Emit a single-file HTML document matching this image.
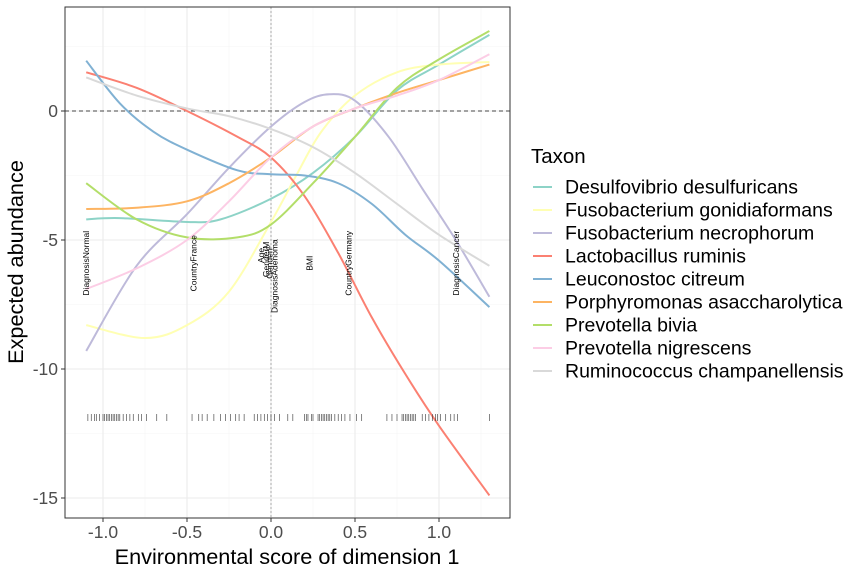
<!DOCTYPE html>
<html><head><meta charset="utf-8"><style>
body{margin:0;background:#fff;}
svg text{font-family:"Liberation Sans",sans-serif;}
</style></head><body>
<svg id="chart" width="864" height="576" viewBox="0 0 864 576" xmlns="http://www.w3.org/2000/svg">
<rect width="864" height="576" fill="#fff"/>
<g id="grid"></g>
<g id="curves"></g>
<g id="labels"></g>
<g id="rug"></g>
<rect x="65" y="7" width="445" height="511" fill="none" stroke="#333" stroke-width="1"/>
<g id="axes"></g>
<text x="287" y="564" font-size="21.7" text-anchor="middle" fill="#000">Environmental score of dimension 1</text>
<text transform="translate(23,262) rotate(-90)" font-size="21.7" text-anchor="middle" fill="#000">Expected abundance</text>
<g id="legend">
<text x="531" y="163" font-size="20.5" fill="#000">Taxon</text>
</g>
</svg>
<script>
const xTicks=[-1.0,-0.5,0.0,0.5,1.0];
const xTickLabels=["-1.0","-0.5","0.0","0.5","1.0"];
const yTicks=[0,-5,-10,-15];
const yTickLabels=["0","-5","-10","-15"];
const taxa=["Desulfovibrio desulfuricans","Fusobacterium gonidiaformans","Fusobacterium necrophorum","Lactobacillus ruminis","Leuconostoc citreum","Porphyromonas asaccharolytica","Prevotella bivia","Prevotella nigrescens","Ruminococcus champanellensis"];
const colors=["#8dd3c7","#ffffb3","#bebada","#fb8072","#80b1d3","#fdb462","#b3de69","#fccde5","#d9d9d9"];
const seriesX=[
[-1.1,-0.9,-0.5,-0.3,0,0.25,0.5,0.75,1.0,1.3],
[-1.1,-0.75,-0.5,-0.25,0,0.15,0.3,0.5,0.75,1.0,1.3],
[-1.1,-0.8,-0.5,-0.25,0,0.2,0.35,0.5,0.7,0.9,1.1,1.3],
[-1.1,-0.8,-0.5,-0.2,0,0.2,0.4,0.6,0.8,1.0,1.3],
[-1.1,-0.9,-0.7,-0.5,-0.2,0,0.2,0.4,0.6,0.8,1.0,1.3],
[-1.1,-0.8,-0.5,-0.25,0,0.25,0.5,0.75,1.0,1.3],
[-1.1,-0.8,-0.5,-0.2,0,0.25,0.5,0.75,1.0,1.3],
[-1.1,-0.8,-0.5,-0.25,0,0.25,0.5,0.75,1.0,1.3],
[-1.1,-0.8,-0.5,-0.25,0,0.25,0.5,0.75,1.0,1.3]];
const seriesY=[
[-4.2,-4.15,-4.3,-4.2,-3.4,-2.4,-1.0,0.8,1.8,2.95],
[-8.3,-8.8,-8.3,-7.0,-4.3,-2.5,-0.8,0.6,1.5,1.8,1.9],
[-9.3,-6.0,-4.0,-2.2,-0.6,0.35,0.65,0.4,-1.0,-3.0,-5.0,-7.2],
[1.5,0.9,0.0,-1.0,-1.8,-3.3,-5.5,-8.0,-10.2,-12.2,-14.9],
[1.95,0.3,-0.8,-1.5,-2.3,-2.45,-2.5,-2.8,-3.6,-4.8,-5.8,-7.6],
[-3.8,-3.75,-3.5,-2.8,-1.8,-0.6,0.1,0.7,1.2,1.8],
[-2.8,-4.2,-4.9,-4.9,-4.4,-2.8,-1.0,0.9,2.0,3.1],
[-6.9,-6.1,-5.0,-3.5,-1.8,-0.6,0.1,0.6,1.2,2.2],
[1.3,0.6,0.1,-0.2,-0.7,-1.4,-2.4,-3.6,-4.8,-6.0]];
const varNames=["DiagnosisNormal","CountryFrance","Age","GenderM","GenderF","DiagnosisAdenoma","BMI","CountryGermany","DiagnosisCancer"];
const varX=[-1.1,-0.46,-0.06,-0.03,-0.01,0.02,0.23,0.46,1.1];
const varY=[-5.9,-5.9,-5.6,-5.75,-5.85,-6.4,-5.9,-5.9,-5.9];
const rugX=[-1.09,-1.07,-1.05,-1.04,-1.02,-1.0,-0.99,-0.98,-0.97,-0.96,-0.95,-0.94,-0.93,-0.92,-0.91,-0.9,-0.88,-0.86,-0.84,-0.82,-0.79,-0.77,-0.74,-0.68,-0.62,-0.47,-0.43,-0.41,-0.38,-0.34,-0.3,-0.27,-0.24,-0.21,-0.19,-0.16,-0.1,-0.08,-0.06,-0.04,-0.02,0.0,0.02,0.05,0.1,0.13,0.2,0.21,0.22,0.24,0.25,0.28,0.29,0.3,0.31,0.32,0.33,0.34,0.35,0.36,0.38,0.4,0.42,0.44,0.47,0.51,0.54,0.69,0.72,0.75,0.78,0.79,0.8,0.81,0.82,0.83,0.84,0.85,0.86,0.9,0.92,0.94,0.96,0.98,0.99,1.01,1.04,1.07,1.09,1.11,1.3];
const NS="http://www.w3.org/2000/svg";
const xs=v=>271+v*168, ys=v=>111-v*25.8;
function mk(t,a,p){const e=document.createElementNS(NS,t);for(const k in a)e.setAttribute(k,a[k]);p.appendChild(e);return e;}
const grid=document.getElementById('grid');
mk('rect',{x:65,y:7,width:445,height:511,fill:'#fff'},grid);
[-0.75,-0.25,0.25,0.75,1.25].forEach(v=>{const l=mk('line',{x1:xs(v),x2:xs(v),y1:7,y2:518,stroke:'#f5f5f5','stroke-width':0.6},grid);});
[2.5,-2.5,-7.5,-12.5].forEach(v=>{const l=mk('line',{x1:65,x2:510,y1:ys(v),y2:ys(v),stroke:'#f5f5f5','stroke-width':0.6},grid);});
xTicks.forEach(v=>{const l=mk('line',{x1:xs(v),x2:xs(v),y1:7,y2:518,stroke:'#ebebeb','stroke-width':1.1},grid);});
yTicks.forEach(v=>{const l=mk('line',{x1:65,x2:510,y1:ys(v),y2:ys(v),stroke:'#ebebeb','stroke-width':1.1},grid);});
let h=mk('line',{x1:65,x2:510,y1:ys(0),y2:ys(0),stroke:'#444','stroke-width':1,'stroke-dasharray':'4,3'},grid);

let vv=mk('line',{x1:xs(0),x2:xs(0),y1:7,y2:518,stroke:'#999','stroke-width':0.8,'stroke-dasharray':'2,2'},grid);

function smooth(pts){let d=`M${pts[0][0]},${pts[0][1]}`;for(let i=0;i<pts.length-1;i++){const p0=pts[i-1]||pts[i],p1=pts[i],p2=pts[i+1],p3=pts[i+2]||p2;
const c1=[p1[0]+(p2[0]-p0[0])/6,p1[1]+(p2[1]-p0[1])/6],c2=[p2[0]-(p3[0]-p1[0])/6,p2[1]-(p3[1]-p1[1])/6];d+=` C${c1[0]},${c1[1]} ${c2[0]},${c2[1]} ${p2[0]},${p2[1]}`;}return d;}
const cg=document.getElementById('curves');
taxa.forEach((t,i)=>{const pts=seriesX[i].map((x,j)=>[xs(x),ys(seriesY[i][j])]);
const p=mk('path',{d:smooth(pts),fill:'none',stroke:colors[i],'stroke-width':2},cg);

});
const lg=document.getElementById('labels');
varNames.forEach((n,i)=>{const x=xs(varX[i]),y=ys(varY[i]);
const t=mk('text',{transform:`translate(${x+3},${y}) rotate(-90)`,'font-size':8.5,'text-anchor':'middle',fill:'#000'},lg);
t.textContent=n;

});
const rg=document.getElementById('rug');
rugX.forEach(v=>{const l=mk('line',{x1:xs(v),x2:xs(v),y1:414,y2:421,stroke:'#333','stroke-width':0.6},rg);

});
const ax=document.getElementById('axes');
xTicks.forEach((v,i)=>{mk('line',{x1:xs(v),x2:xs(v),y1:518,y2:522,stroke:'#333'},ax);
const t=mk('text',{x:xs(v),y:538,'font-size':17.5,'text-anchor':'middle',fill:'#4d4d4d'},ax);t.textContent=xTickLabels[i];

});
yTicks.forEach((v,i)=>{mk('line',{x1:61,x2:65,y1:ys(v),y2:ys(v),stroke:'#333'},ax);
const t=mk('text',{x:58,y:ys(v)+6,'font-size':17.5,'text-anchor':'end',fill:'#4d4d4d'},ax);t.textContent=yTickLabels[i];

});
const leg=document.getElementById('legend');
taxa.forEach((t,i)=>{const y=187+i*23;const g=mk('g',{},leg);


mk('line',{x1:533,x2:552,y1:y,y2:y,stroke:colors[i],'stroke-width':2},g);
const tx=mk('text',{x:565,y:y+6.5,'font-size':19.5,fill:'#000'},g);tx.textContent=t;});
</script>
</body></html>
